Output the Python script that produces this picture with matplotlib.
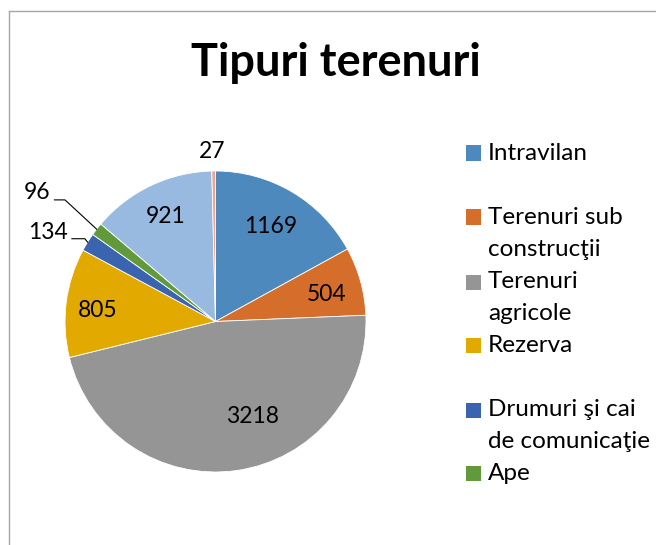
import matplotlib
matplotlib.use("Agg")
import matplotlib.pyplot as plt
from matplotlib.patches import Rectangle
from matplotlib.lines import Line2D
import numpy as np

plt.rcParams['font.family'] = ['Lato', 'DejaVu Sans']

# ---- data ----
title = "Tipuri terenuri"
categories = ["Intravilan", "Terenuri sub\nconstrucţii", "Terenuri\nagricole", "Rezerva",
              "Drumuri şi cai\nde comunicaţie", "Ape", "", ""]
values = [1169, 504, 3218, 805, 134, 96, 921, 27]
colors = ['#4E89BD', '#D56D2B', '#959595', '#E2AA00', '#3A64B0', '#62993B', '#98BAE0', '#F0A48C']

# ---- style / layout ----
W, H = 656, 545
cx, cy, R = 215.5, 321.5, 150.5   # pie centre/radius in pixels
fig = plt.figure(figsize=(W / 100, H / 100), dpi=100)
fig.patch.set_facecolor('white')

def fx(px):
    return px / W

def fy(py):
    return 1 - py / H

ax = fig.add_axes([fx(cx - R), fy(cy + R), 2 * R / W, 2 * R / H])
wedges, _ = ax.pie(values, colors=colors, startangle=90, counterclock=False, radius=1,
                   wedgeprops=dict(edgecolor='white', linewidth=0.6))
ax.set_xlim(-1, 1)
ax.set_ylim(-1, 1)
ax.set_aspect('equal')
ax.axis('off')

# data label positions (pie-radius units)
label_pos = [(0.364, 0.629), (0.738, 0.179), (0.245, -0.629), (-0.785, 0.073),
             (-1.116, 0.589), (-1.185, 0.854), (-0.331, 0.695), (-0.023, 1.132)]
for v, (x, y) in zip(values, label_pos):
    ax.text(x, y, str(v), ha='center', va='center', fontsize=16.5, color='black', clip_on=False)

# leader lines for the small slices (index: start of horizontal, elbow)
total = sum(values)
cum = np.cumsum([0] + values)
leaders = {4: (-0.954, -0.868, 0.55), 5: (-1.07, -1.0, 0.808)}
for i, (x0, x1, yl) in leaders.items():
    mid = (cum[i] + cum[i + 1]) / 2 / total
    ang = np.pi / 2 - 2 * np.pi * mid
    ex, ey = np.cos(ang), np.sin(ang)
    ax.plot([x0, x1, ex], [yl, yl, ey], color='black', lw=0.8, clip_on=False)

# title
fig.text(fx(336), fy(63), title, ha='center', va='center', fontsize=32.5, fontweight='bold')

# legend (only entries visible in the chart area)
leg_y = [153, 217, 282, 345, 410, 473]
line_h = 32
for k, ycen in enumerate(leg_y):
    fig.add_artist(Rectangle((fx(466), fy(ycen + 7.5)), 15 / W, 15 / H,
                             transform=fig.transFigure, facecolor=colors[k], edgecolor='none'))
    for j, line in enumerate(categories[k].split("\n")):
        fig.text(fx(488), fy(ycen + j * line_h), line, ha='left', va='center', fontsize=17.5)

# chart-area border (top and left visible)
fig.add_artist(Line2D([fx(9), 1], [fy(11), fy(11)], transform=fig.transFigure, color='#A6A6A6', lw=1))
fig.add_artist(Line2D([fx(9), fx(9)], [fy(11), 0], transform=fig.transFigure, color='#A6A6A6', lw=1))

fig.savefig('out.png', dpi=100, facecolor='white')
